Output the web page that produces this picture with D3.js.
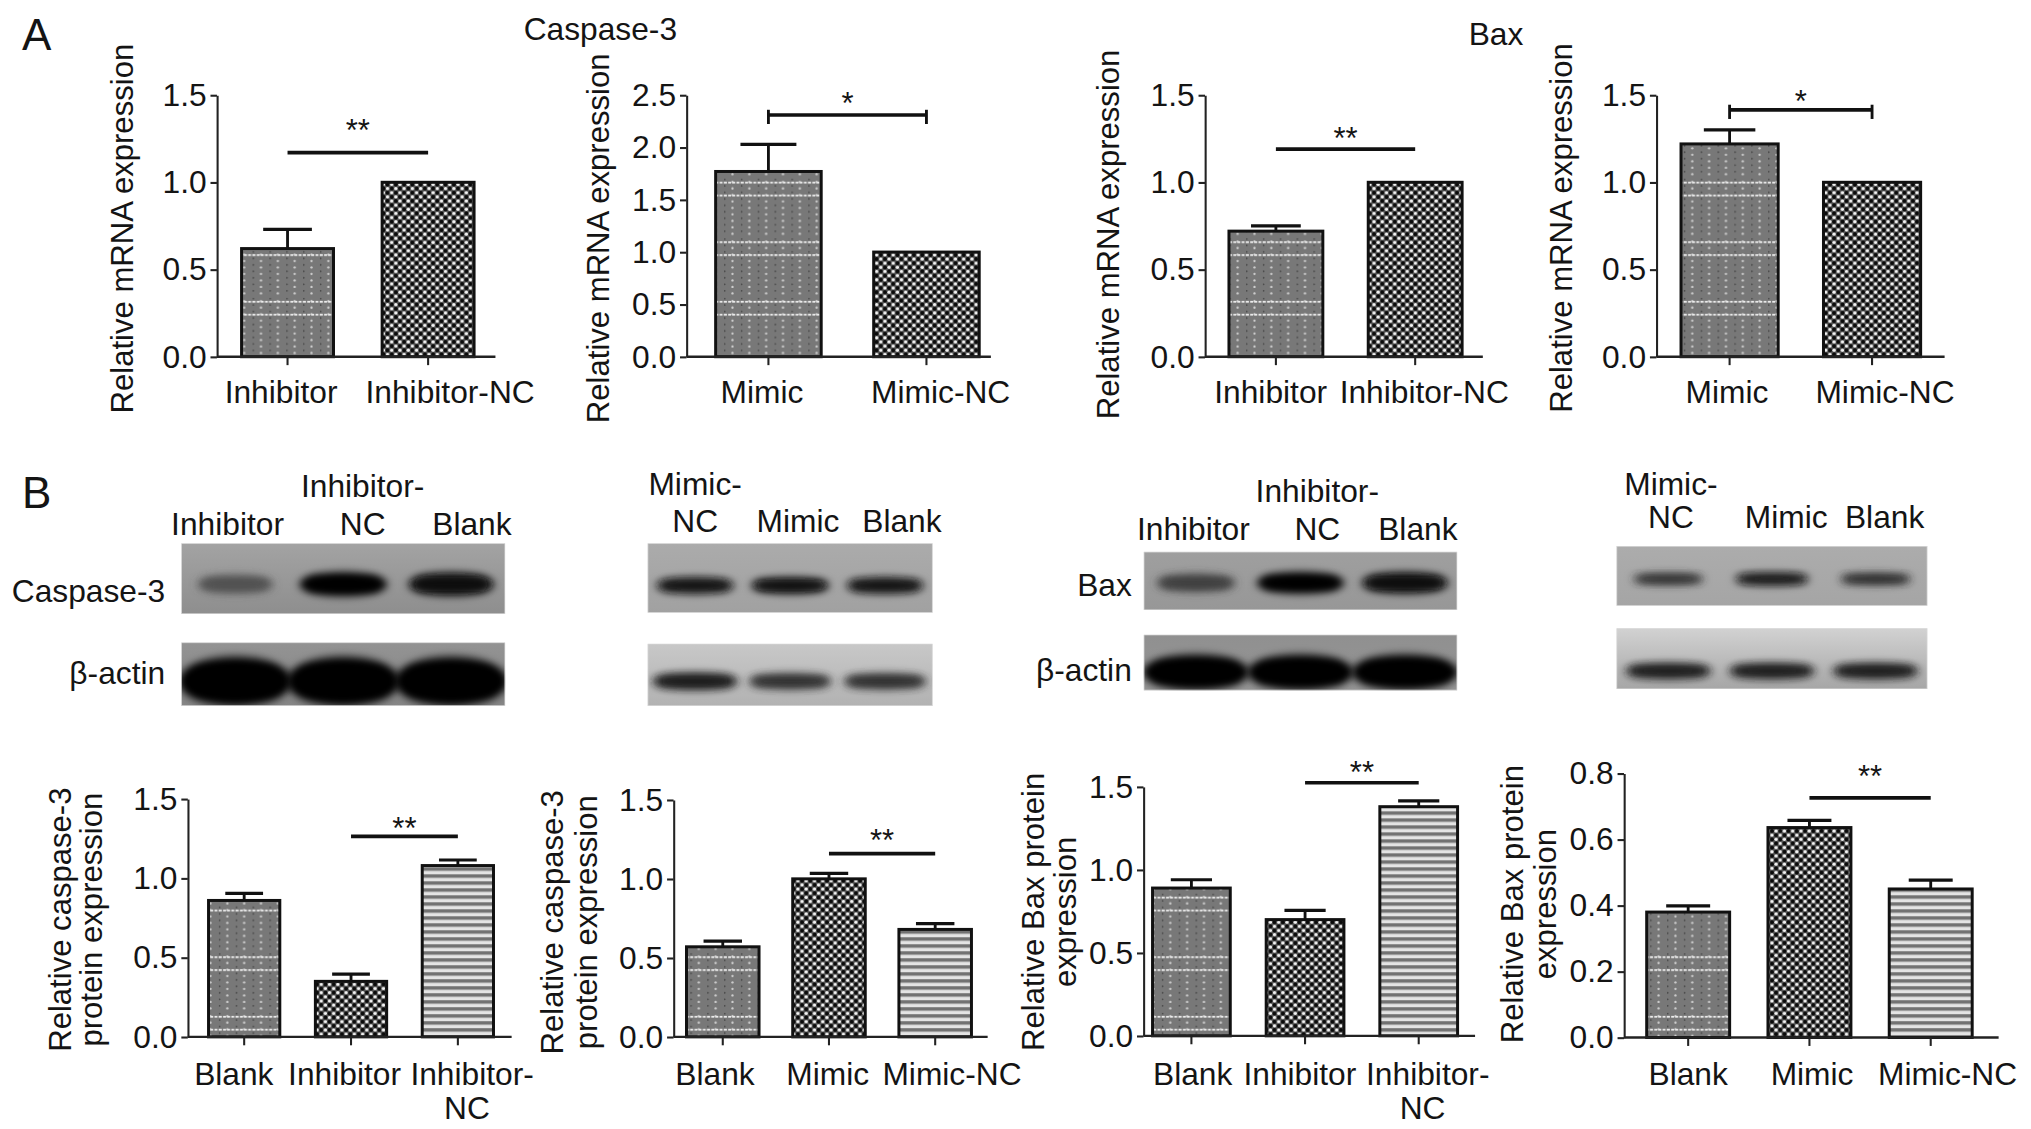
<!DOCTYPE html>
<html><head><meta charset="utf-8">
<script src="https://cdn.jsdelivr.net/npm/d3@7"></script>
<style>html,body{margin:0;padding:0;background:#fff;overflow:hidden}</style>
</head><body><svg id="fig"></svg>
<script>
// ---------------- DATA ----------------
// Panel A: relative mRNA expression
const catsA1 = ["Inhibitor", "Inhibitor-NC"];
const valsA1 = [0.62, 1.00];
const errA1  = [0.11, 0];
const sigA1  = [0, 1, 1.17, "**"];

const catsA2 = ["Mimic", "Mimic-NC"];
const valsA2 = [1.77, 1.00];
const errA2  = [0.26, 0];
const sigA2  = [0, 1, 2.31, "*"];

const catsA3 = ["Inhibitor", "Inhibitor-NC"];
const valsA3 = [0.72, 1.00];
const errA3  = [0.03, 0];
const sigA3  = [0, 1, 1.19, "**"];

const catsA4 = ["Mimic", "Mimic-NC"];
const valsA4 = [1.22, 1.00];
const errA4  = [0.08, 0];
const sigA4  = [0, 1, 1.415, "*"];

// Panel B: relative protein expression
const catsB1 = ["Blank", "Inhibitor", "Inhibitor-NC"];
const valsB1 = [0.86, 0.35, 1.08];
const errB1  = [0.045, 0.045, 0.035];
const sigB1  = [1, 2, 1.264, "**"];

const catsB2 = ["Blank", "Mimic", "Mimic-NC"];
const valsB2 = [0.57, 1.00, 0.68];
const errB2  = [0.036, 0.035, 0.036];
const sigB2  = [1, 2, 1.16, "**"];

const catsB3 = ["Blank", "Inhibitor", "Inhibitor-NC"];
const valsB3 = [0.89, 0.70, 1.38];
const errB3  = [0.05, 0.055, 0.035];
const sigB3  = [1, 2, 1.524, "**"];

const catsB4 = ["Blank", "Mimic", "Mimic-NC"];
const valsB4 = [0.38, 0.636, 0.45];
const errB4  = [0.019, 0.022, 0.027];
const sigB4  = [1, 2, 0.726, "**"];

// tick values
const ticks15 = [0, 0.5, 1.0, 1.5];
const ticks25 = [0, 0.5, 1.0, 1.5, 2.0, 2.5];
const ticks08 = [0, 0.2, 0.4, 0.6, 0.8];

// tick labels as printed (line breaks)
const labA1 = ["Inhibitor", "Inhibitor-NC"];
const labA2 = ["Mimic", "Mimic-NC"];
const labB1 = ["Blank", "Inhibitor", "Inhibitor-\nNC"];
const labB2 = ["Blank", "Mimic", "Mimic-NC"];

// Western blot lanes and relative band intensities (0..1)
const lanesBlot1 = ["Inhibitor", "Inhibitor-\nNC", "Blank"];
const lanesBlot2 = ["Mimic-\nNC", "Mimic", "Blank"];
const casp3Blot1 = [0.45, 1.0, 0.92];
const actinBlot1 = [1.0, 1.0, 1.0];
const casp3Blot2 = [0.92, 0.95, 0.9];
const actinBlot2 = [0.88, 0.75, 0.75];
const baxBlot3   = [0.6, 1.0, 0.95];
const actinBlot3 = [1.0, 1.0, 1.0];
const baxBlot4   = [0.75, 0.92, 0.78];
const actinBlot4 = [0.85, 0.85, 0.85];

// ---------------- SETUP ----------------
const VBW = 1568, VBH = 1129 * 1568 / 2031;
const FONT = "'Liberation Sans', Arial, Helvetica, sans-serif";
const FS = 24.5;
const INK = "#141414";

const svg = d3.select("#fig").attr("width", 2031).attr("height", 1129)
  .attr("viewBox", `0 0 ${VBW} ${VBH}`)
  .style("display", "block").style("background", "#fff");

const defs = svg.append("defs");
// pattern 0: gray with light dots and dashed white lines
{
  const p = defs.append("pattern").attr("id", "pat0").attr("patternUnits", "userSpaceOnUse")
    .attr("width", 13).attr("height", 46);
  p.append("rect").attr("width", 13).attr("height", 46).attr("fill", "#787878");
  d3.range(9).forEach(k => {
    p.append("circle").attr("cx", 6.5).attr("cy", k * 5 + 2.5).attr("r", 0.9).attr("fill", "#cfcfcf");
    p.append("circle").attr("cx", 0.5).attr("cy", k * 5 + 0.5).attr("r", 0.7).attr("fill", "#4a4a4a");
  });
  [3, 13].forEach(yy => p.append("line").attr("x1", 0).attr("x2", 13).attr("y1", yy).attr("y2", yy)
    .attr("stroke", "#efefef").attr("stroke-width", 1.4).attr("stroke-dasharray", "2.2,1"));
}
// pattern 1: checker of black/white dots
{
  const s = 6.4;
  const p = defs.append("pattern").attr("id", "pat1").attr("patternUnits", "userSpaceOnUse")
    .attr("width", s).attr("height", s);
  p.append("rect").attr("width", s).attr("height", s).attr("fill", "#5a5a5a");
  p.append("circle").attr("cx", s / 4).attr("cy", s / 4).attr("r", 1.3).attr("fill", "#f4f4f4");
  p.append("circle").attr("cx", 3 * s / 4).attr("cy", 3 * s / 4).attr("r", 1.3).attr("fill", "#f4f4f4");
  p.append("circle").attr("cx", 3 * s / 4).attr("cy", s / 4).attr("r", 1.55).attr("fill", "#0a0a0a");
  p.append("circle").attr("cx", s / 4).attr("cy", 3 * s / 4).attr("r", 1.55).attr("fill", "#0a0a0a");
}
// pattern 2: horizontal stripes
{
  const p = defs.append("pattern").attr("id", "pat2").attr("patternUnits", "userSpaceOnUse")
    .attr("width", 8).attr("height", 5.4);
  p.append("rect").attr("width", 8).attr("height", 5.4).attr("fill", "#e4e4e4");
  p.append("rect").attr("width", 8).attr("height", 2.7).attr("fill", "#727272");
}
defs.append("filter").attr("id", "blur").attr("x", "-30%").attr("y", "-100%")
  .attr("width", "160%").attr("height", "300%")
  .append("feGaussianBlur").attr("stdDeviation", 3.2);
defs.append("filter").attr("id", "soft").append("feGaussianBlur").attr("stdDeviation", 0.6);

function txt(g, s, x, y, opts = {}) {
  return g.append("text").attr("x", x).attr("y", y)
    .attr("font-family", FONT).attr("font-size", opts.fs || FS)
    .attr("fill", INK).attr("text-anchor", opts.anchor || "middle").text(s);
}

// ---------------- BAR CHARTS ----------------
const charts = [
  { cats: catsA1, labs: labA1, vals: valsA1, errs: errA1, sig: sigA1, ticks: ticks15, dom: [0, 1.5],
    bars: [186.5, 366], pi: 0.346, axis: [167.5, 382.5], yr: [275.4, 73.4],
    ylab: ["Relative mRNA expression"], ylabX: [102.5], ylabY: 176.5, catBase: 311, shift: [-5, 17],
    starGap: 23, bracket: false },
  { cats: catsA2, labs: labA2, vals: valsA2, errs: errA2, sig: sigA2, ticks: ticks25, dom: [0, 2.5],
    bars: [552.5, 756], pi: 0.332, axis: [530, 765], yr: [275.4, 73.4],
    ylab: ["Relative mRNA expression"], ylabX: [470], ylabY: 184, catBase: 311, shift: [-5, 11],
    starGap: 15, bracket: true },
  { cats: catsA3, labs: labA1, vals: valsA3, errs: errA3, sig: sigA3, ticks: ticks15, dom: [0, 1.5],
    bars: [948.8, 1128.8], pi: 0.326, axis: [930.3, 1144.8], yr: [275.4, 73.4],
    ylab: ["Relative mRNA expression"], ylabX: [864], ylabY: 181, catBase: 311, shift: [-4, 7],
    starGap: 14, bracket: false },
  { cats: catsA4, labs: labA2, vals: valsA4, errs: errA4, sig: sigA4, ticks: ticks15, dom: [0, 1.5],
    bars: [1297.8, 1482.8], pi: 0.318, axis: [1278.8, 1501.3], yr: [275.4, 73.4],
    ylab: ["Relative mRNA expression"], ylabX: [1214], ylabY: 176, catBase: 311, shift: [-2, 10],
    starGap: 12, bracket: true },
  { cats: catsB1, labs: labB1, vals: valsB1, errs: errB1, sig: sigB1, ticks: ticks15, dom: [0, 1.5],
    bars: [161, 381], pi: 0.333, axis: [145, 395], yr: [800.5, 616.8],
    ylab: ["Relative caspase-3", "protein expression"], ylabX: [55, 79], ylabY: 710, catBase: 838, shift: [-8, -5, 11],
    starGap: 12, bracket: false },
  { cats: catsB2, labs: labB2, vals: valsB2, errs: errB2, sig: sigB2, ticks: ticks15, dom: [0, 1.5],
    bars: [530, 750], pi: 0.317, axis: [520, 762.5], yr: [800.5, 617.5],
    ylab: ["Relative caspase-3", "protein expression"], ylabX: [435, 461], ylabY: 712, catBase: 838, shift: [-6, -1, 13],
    starGap: 16, bracket: false },
  { cats: catsB3, labs: labB1, vals: valsB3, errs: errB3, sig: sigB3, ticks: ticks15, dom: [0, 1.5],
    bars: [889.8, 1125.3], pi: 0.316, axis: [882.8, 1138.8], yr: [799.7, 607.4],
    ylab: ["Relative Bax protein", "expression"], ylabX: [806, 831], ylabY: 704, catBase: 838, shift: [1, -4, 7],
    starGap: 14, bracket: false },
  { cats: catsB4, labs: labB2, vals: valsB4, errs: errB4, sig: sigB4, ticks: ticks08, dom: [0, 0.8],
    bars: [1271.3, 1522.6], pi: 0.316, axis: [1253.8, 1543], yr: [801, 597.1],
    ylab: ["Relative Bax protein", "expression"], ylabX: [1176, 1201], ylabY: 698, catBase: 838, shift: [0, 2, 13],
    starGap: 22, bracket: false }
];

function drawChart(c) {
  const g = svg.append("g");
  const x = d3.scaleBand().domain(c.cats).range(c.bars).paddingInner(c.pi).paddingOuter(0);
  const y = d3.scaleLinear().domain(c.dom).range(c.yr);
  const bw = x.bandwidth();
  const cx = d => x(d) + bw / 2;

  // bars
  g.selectAll("rect.bar").data(c.cats).join("rect").attr("class", "bar")
    .attr("x", d => x(d)).attr("width", bw)
    .attr("y", (d, i) => y(c.vals[i])).attr("height", (d, i) => y(0) - y(c.vals[i]))
    .attr("fill", (d, i) => `url(#pat${i})`)
    .attr("stroke", "#111").attr("stroke-width", 2.3);

  // error bars (upper)
  c.cats.forEach((d, i) => {
    if (!c.errs[i]) return;
    const top = y(c.vals[i] + c.errs[i]);
    g.append("line").attr("x1", cx(d)).attr("x2", cx(d)).attr("y1", y(c.vals[i])).attr("y2", top)
      .attr("stroke", "#111").attr("stroke-width", 2.2);
    g.append("line").attr("x1", cx(d) - bw * 0.265).attr("x2", cx(d) + bw * 0.265).attr("y1", top).attr("y2", top)
      .attr("stroke", "#111").attr("stroke-width", 2.5);
  });

  // y axis
  const ya = g.append("g").attr("transform", `translate(${c.axis[0]},0)`)
    .call(d3.axisLeft(y).tickValues(c.ticks).tickFormat(d3.format(".1f"))
      .tickSize(5).tickSizeOuter(0).tickPadding(3));
  ya.attr("font-family", FONT).attr("font-size", FS);
  ya.select(".domain").attr("stroke", "#222").attr("stroke-width", 1.6);
  ya.selectAll(".tick line").attr("stroke", "#222").attr("stroke-width", 1.6);
  ya.selectAll(".tick text").attr("fill", INK);

  // x axis
  g.append("line").attr("x1", c.axis[0]).attr("x2", c.axis[1]).attr("y1", y(0)).attr("y2", y(0))
    .attr("stroke", "#222").attr("stroke-width", 1.8);
  g.selectAll("line.xt").data(c.cats).join("line").attr("class", "xt")
    .attr("x1", cx).attr("x2", cx).attr("y1", y(0)).attr("y2", y(0) + 6.5)
    .attr("stroke", "#222").attr("stroke-width", 1.6);

  // category labels
  c.cats.forEach((d, i) => {
    const lines = c.labs[i].split("\n");
    lines.forEach((ln, k) => txt(g, ln, cx(d) + c.shift[i] - (k > 0 ? 4 : 0), c.catBase + k * 26));
  });

  // y label (rotated)
  c.ylab.forEach((ln, k) => {
    g.append("text").attr("transform", `translate(${c.ylabX[k]},${c.ylabY}) rotate(-90)`)
      .attr("font-family", FONT).attr("font-size", FS - 0.5).attr("fill", INK)
      .attr("text-anchor", "middle").text(ln);
  });

  // significance
  const [a, b, sv, star] = c.sig;
  const sy = y(sv), xa = cx(c.cats[a]), xb = cx(c.cats[b]);
  g.append("line").attr("x1", xa).attr("x2", xb).attr("y1", sy).attr("y2", sy)
    .attr("stroke", "#111").attr("stroke-width", 2.8);
  if (c.bracket) {
    [xa, xb].forEach(xx => g.append("line").attr("x1", xx).attr("x2", xx)
      .attr("y1", sy - 4).attr("y2", sy + 7).attr("stroke", "#111").attr("stroke-width", 2.2));
  }
  txt(g, star, (xa + xb) / 2, sy - c.starGap + 14, { fs: 24 });
}
charts.forEach(drawChart);

// ---------------- TITLES ----------------
txt(svg, "A", 17, 38.6, { anchor: "start", fs: 34 });
txt(svg, "B", 17, 392.5, { anchor: "start", fs: 34 });
txt(svg, "Caspase-3", 463.5, 31);
txt(svg, "Bax", 1155, 35);

// ---------------- WESTERN BLOTS ----------------
const blots = [
  { lanes: lanesBlot1, x: [140, 390], labShift: [-6, 15, 16], labBase: [383.5, 413],
    rowLabels: ["Caspase-3", "β-actin"], rowLabelX: 127.5, rowLabelBase: [465, 528],
    strips: [
      { y: [419.5, 474], grad: ["#a3a3a3", "#8e8e8e"], cy: 451, h: 18, wf: 0.82, vals: casp3Blot1 },
      { y: [496, 545], grad: ["#939393", "#868686"], cy: 526, h: 38, wf: 1.05, vals: actinBlot1 }] },
  { lanes: lanesBlot2, x: [500, 720], labShift: [0, 6, 13], labBase: [382, 410.5],
    rowLabels: [], strips: [
      { y: [419.5, 473], grad: ["#ababab", "#a1a1a1"], cy: 452, h: 12, wf: 0.85, vals: casp3Blot2 },
      { y: [497, 545], grad: ["#c8c8c8", "#b2b2b2"], cy: 526, h: 13, wf: 0.95, vals: actinBlot2 }] },
  { lanes: lanesBlot1, x: [883, 1125], labShift: [-2, 13, 10], labBase: [387.4, 417],
    rowLabels: ["Bax", "β-actin"], rowLabelX: 873.8, rowLabelBase: [460.5, 526],
    strips: [
      { y: [426, 471], grad: ["#9f9f9f", "#979797"], cy: 450, h: 16, wf: 0.85, vals: baxBlot3 },
      { y: [490, 533], grad: ["#909090", "#959595"], cy: 519, h: 27, wf: 1.02, vals: actinBlot3 }] },
  { lanes: lanesBlot2, x: [1248, 1488], labShift: [2, 11, 7], labBase: [382, 408],
    rowLabels: [], strips: [
      { y: [421.6, 467.7], grad: ["#acacac", "#a5a5a5"], cy: 447, h: 9, wf: 0.74, vals: baxBlot4 },
      { y: [485, 532], grad: ["#d2d2d2", "#a6a6a6"], cy: 518, h: 12, wf: 0.88, vals: actinBlot4 }] }
];

blots.forEach((bl, bi) => {
  const g = svg.append("g");
  const lane = d3.scaleBand().domain(bl.lanes).range(bl.x).padding(0);
  const step = lane.step();
  const lc = l => lane(l) + step / 2;

  // lane labels
  bl.lanes.forEach((l, i) => {
    const parts = l.split("\n");
    const lx = lc(l) + bl.labShift[i];
    if (parts.length === 2) {
      txt(g, parts[0], lx, bl.labBase[0]);
      txt(g, parts[1], lx, bl.labBase[1]);
    } else {
      txt(g, parts[0], lx, bl.labBase[1]);
    }
  });
  bl.rowLabels.forEach((r, k) => txt(g, r, bl.rowLabelX, bl.rowLabelBase[k], { anchor: "end" }));

  bl.strips.forEach((s, si) => {
    const gid = `grad${bi}_${si}`, cid = `clip${bi}_${si}`;
    const gr = defs.append("linearGradient").attr("id", gid).attr("x1", 0).attr("x2", 0).attr("y1", 0).attr("y2", 1);
    gr.append("stop").attr("offset", "0%").attr("stop-color", s.grad[0]);
    gr.append("stop").attr("offset", "100%").attr("stop-color", s.grad[1]);
    defs.append("clipPath").attr("id", cid).append("rect")
      .attr("x", bl.x[0]).attr("y", s.y[0]).attr("width", bl.x[1] - bl.x[0]).attr("height", s.y[1] - s.y[0]);
    const sg = g.append("g").attr("clip-path", `url(#${cid})`);
    sg.append("rect").attr("x", bl.x[0]).attr("y", s.y[0]).attr("width", bl.x[1] - bl.x[0])
      .attr("height", s.y[1] - s.y[0]).attr("fill", `url(#${gid})`);
    const dark = d3.interpolateRgb(s.grad[1], "#060606");
    const bwid = i => step * s.wf * (0.75 + 0.25 * s.vals[i]);
    const bh = i => s.h * (0.5 + 0.5 * s.vals[i]);
    sg.selectAll("ellipse.band").data(bl.lanes).join("ellipse").attr("class", "band")
      .attr("cx", l => lc(l))
      .attr("cy", s.cy)
      .attr("rx", (l, i) => bwid(i) / 2)
      .attr("ry", (l, i) => bh(i) / 2)
      .attr("fill", (l, i) => dark(s.vals[i]))
      .attr("filter", "url(#blur)");
    // denser core of each band
    sg.selectAll("rect.core").data(bl.lanes).join("rect").attr("class", "core")
      .attr("x", (l, i) => lc(l) - bwid(i) * 0.42)
      .attr("width", (l, i) => bwid(i) * 0.84)
      .attr("y", (l, i) => s.cy - bh(i) * 0.3)
      .attr("height", (l, i) => bh(i) * 0.6)
      .attr("rx", (l, i) => bh(i) * 0.3)
      .attr("fill", (l, i) => dark(s.vals[i]))
      .attr("opacity", 0.85)
      .attr("filter", "url(#blur)");
    // soften strip edges
    sg.append("rect").attr("x", bl.x[0]).attr("y", s.y[0]).attr("width", bl.x[1] - bl.x[0])
      .attr("height", s.y[1] - s.y[0]).attr("fill", "none")
      .attr("stroke", "#d8d8d8").attr("stroke-width", 1).attr("filter", "url(#soft)");
  });
});
</script>
</body></html>
